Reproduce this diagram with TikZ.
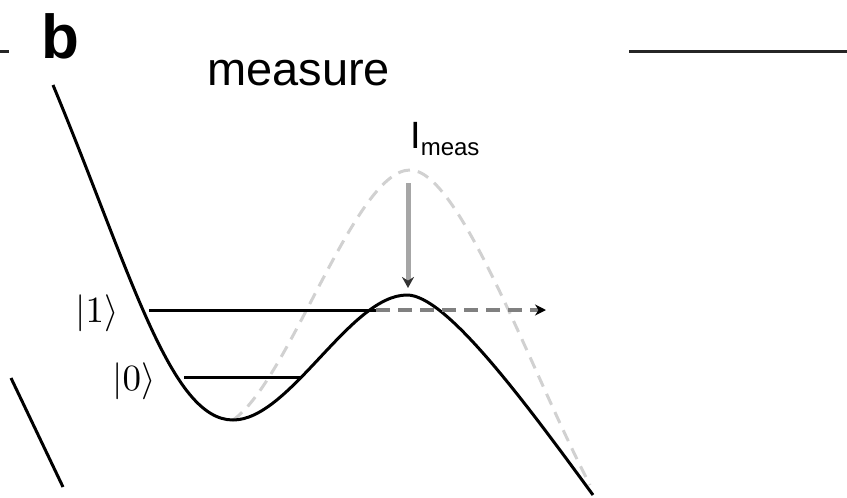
\documentclass[tikz,border=0pt]{standalone}
\usepackage{fontspec}
\setmainfont{Liberation Sans}
\usetikzlibrary{arrows.meta, positioning}

\begin{document}
\begin{tikzpicture}[x=1pt, y=-1pt, >=Stealth,
      well/.style={line width=3pt, black, line join=round},
      probe/.style={line width=3pt, black!18, dash pattern=on 12pt off 8pt},
      level/.style={line width=3pt, black},
      rule/.style={line width=3pt, black!85},
      lbl/.style={inner sep=0pt}]

    % frame: same proportions as the panel
    \useasboundingbox (0,0) rectangle (847,498);

    % --- panel letter and title ---
    \node[inner sep=0pt, anchor=base west, font=\fontsize{62}{62}\selectfont\bfseries] (panel) at (41,58) {b};
    \node[inner sep=0pt, anchor=base west, font=\fontsize{47}{50}\selectfont] (title) at (207,85) {measure};

    % --- rules cut by the panel edges ---
    \coordinate (ruleLa) at (0,51);
    \coordinate (ruleLb) at (9,51);
    \coordinate (ruleRa) at (629,51);
    \coordinate (ruleRb) at (847,51);
    \draw[rule] (ruleLa) -- (ruleLb);
    \draw[rule] (ruleRa) -- (ruleRb);

    % --- stray edge of the neighbouring curve ---
    \coordinate (edgeA) at (11,378);
    \coordinate (edgeB) at (63,487);
    \draw[line width=3pt] (edgeA) -- (edgeB);

    % --- key points of the two potentials ---
    \coordinate (wellTop) at (53,85);
    \coordinate (wellMin) at (233,420);
    \coordinate (barrier) at (407,295);
    \coordinate (wellEnd) at (593,495);
    \coordinate (probeTop) at (410,170);
    \coordinate (probeEnd) at (590,485);

    % potential with bias pulse (dashed, light gray)
    \draw[probe] (wellMin) .. controls (290,380) and (355,170) .. (probeTop)
        .. controls (460,170) and (530,370) .. (probeEnd);

    % potential well (solid)
    \draw[well] (wellTop) .. controls (130,270) and (170,420) .. (wellMin)
        .. controls (290,420) and (350,295) .. (barrier)
        .. controls (445,295) and (520,395) .. (wellEnd);

    % --- energy levels ---
    \coordinate (oneL)  at (149,310);
    \coordinate (oneR)  at (376,310);
    \coordinate (tunnel) at (546,310);
    \coordinate (zeroL) at (184,377);
    \coordinate (zeroR) at (300,377);
    \draw[level] (oneL) -- (oneR);
    \draw[level] (zeroL) -- (zeroR);
    \draw[line width=4pt, black!50, dash pattern=on 14pt off 8pt, -{Stealth[length=11pt, width=11pt, black]}] (oneR) -- (tunnel);

    \node[lbl] (ketOne)  at (97,313) {\scalebox{3.7}{$|1\rangle$}};
    \node[lbl] (ketZero) at (134,381) {\scalebox{3.7}{$|0\rangle$}};

    % --- measurement pulse ---
    \node[inner sep=0pt, anchor=base west, font=\fontsize{38}{40}\selectfont] (imeas) at (410,148)
        {I\raisebox{-7pt}{\fontsize{24}{24}\selectfont meas}};
    \coordinate (pulseTop) at (408,183);
    \coordinate (pulseTip) at (408,288);
    \draw[line width=5pt, black!35, -{Stealth[length=11pt, width=12pt, black!80]}] (pulseTop) -- (pulseTip);

\end{tikzpicture}
\end{document}
